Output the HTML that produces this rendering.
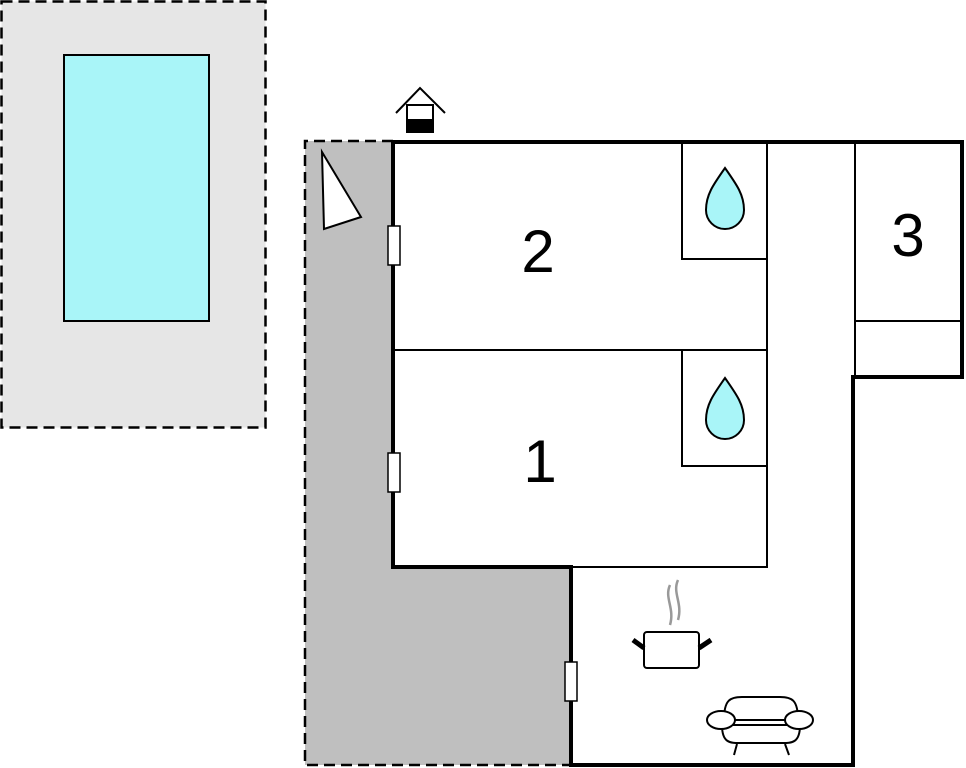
<!DOCTYPE html>
<html><head><style>html,body{margin:0;padding:0;background:#fff}svg{display:block}</style></head>
<body>
<svg width="966" height="768" viewBox="0 0 966 768" xmlns="http://www.w3.org/2000/svg">
<rect x="1.5" y="1.5" width="264" height="426" fill="#e6e6e6" stroke="#000" stroke-width="2.5" stroke-dasharray="11,6"/>
<rect x="64" y="55" width="145" height="266" fill="#a9f5f8" stroke="#000" stroke-width="2"/>
<path d="M305 141 H393 V567 H571 V765 H305 Z" fill="#bfbfbf"/>
<path d="M393 141 H305 V765 H571" fill="none" stroke="#000" stroke-width="2.5" stroke-dasharray="11,6"/>
<g stroke="#000" stroke-width="2" fill="none">
<path d="M393 350 H767"/>
<path d="M767 142 V567 H571"/>
<path d="M682 142 V259 H767"/>
<path d="M682 350 V466 H767"/>
<path d="M855 142 V377"/>
<path d="M855 321 H962"/>
</g>
<path d="M393 142 H962 V377 H853 V765 H571 V567 H393 Z" fill="none" stroke="#000" stroke-width="4"/>
<g fill="#fff" stroke="#000" stroke-width="1.5">
<rect x="388" y="226" width="12" height="39"/>
<rect x="388" y="453" width="12" height="39"/>
<rect x="565" y="662" width="12" height="39"/>
</g>
<g font-family="Liberation Sans, sans-serif" font-size="60" text-anchor="middle" fill="#000">
<text x="538" y="272">2</text>
<text x="540" y="482">1</text>
<text x="908" y="256">3</text>
</g>
<g fill="#a9f5f8" stroke="#000" stroke-width="2">
<path d="M725 168 C713 185 706 195 706 210 A19 19 0 0 0 744 210 C744 195 737 185 725 168 Z"/>
<path d="M725 378 C713 395 706 405 706 420 A19 19 0 0 0 744 420 C744 405 737 395 725 378 Z"/>
</g>
<path d="M322 152 L361 217 L324 229 Z" fill="#fff" stroke="#000" stroke-width="2"/>
<g stroke="#000" stroke-width="2" fill="none">
<path d="M396 113 L420 88 L445 113"/>
<rect x="407" y="105" width="26" height="27" fill="#fff"/>
</g>
<rect x="406" y="119" width="28" height="14" fill="#000"/>
<g stroke="#999" stroke-width="2.5" fill="none">
<path d="M670 585 C664 598 675 608 670 625"/>
<path d="M678 580 C672 593 683 603 678 620"/>
</g>
<rect x="644" y="632" width="55" height="36" rx="3" fill="#fff" stroke="#000" stroke-width="2"/>
<path d="M633 640 L644 648 M711 640 L699 648" stroke="#000" stroke-width="5"/>
<g stroke="#000" stroke-width="2" fill="#fff">
<path d="M724 720 C724 700 730 697 742 697 H780 C792 697 798 700 798 720 Z"/>
<path d="M722 725 C722 743 730 743 740 743 H782 C792 743 800 743 800 725 Z"/>
<path d="M734 725 H786" fill="none"/>
<ellipse cx="721" cy="720" rx="14" ry="9"/>
<ellipse cx="799" cy="720" rx="14" ry="9"/>
<path d="M737 744 L734 755 M785 744 L789 755" fill="none"/>
</g>
</svg>
</body></html>
